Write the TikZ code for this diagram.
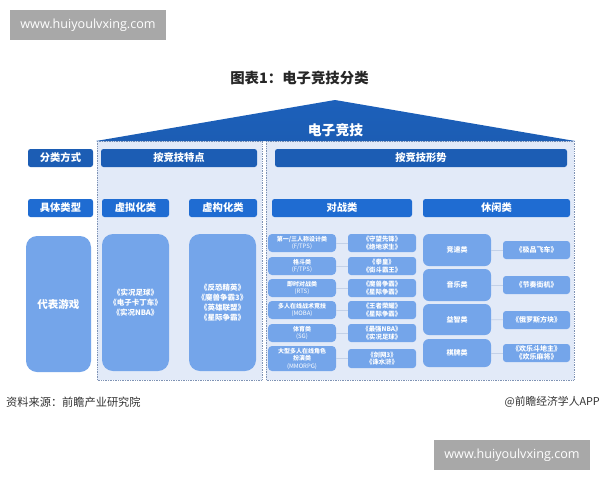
\documentclass[tikz,border=0pt]{standalone}
\usepackage{fontspec}
\setmainfont{Noto Sans CJK SC}
\newfontfamily\urlfont{Open Sans}
\usetikzlibrary{calc}
\definecolor{headblue}{HTML}{1C5DB4}
\definecolor{subblue}{HTML}{1F6CD2}
\definecolor{cellblue}{HTML}{74A5EA}
\definecolor{panelblue}{HTML}{E2EAF8}
\definecolor{edgeblue}{HTML}{7F93B5}
\definecolor{linkblue}{HTML}{C3D1E8}
\definecolor{stampgray}{HTML}{A8A8A8}
\tikzset{
  x=1pt,y=-1pt,
  cellbase/.style={inner sep=0pt,outer sep=0pt,align=center,text=white,rounded corners=2.5pt},
  headbox/.style={cellbase,fill=headblue,font=\fontsize{10.3}{12}\selectfont\bfseries},
  subbox/.style={cellbase,fill=subblue,font=\fontsize{10.3}{12}\selectfont\bfseries},
  tallbox/.style={cellbase,fill=cellblue,rounded corners=11pt,font=\fontsize{7.5}{9.8}\selectfont\bfseries},
  repbox/.style={tallbox,font=\fontsize{10.5}{13}\selectfont\bfseries},
  genrebox/.style={cellbase,fill=cellblue,rounded corners=4pt,font=\fontsize{6}{7.5}\selectfont\bfseries},
  gamebox/.style={cellbase,fill=cellblue,rounded corners=3pt,font=\fontsize{6.4}{7.4}\selectfont\bfseries},
  leisuregame/.style={gamebox,font=\fontsize{7}{7.8}\selectfont\bfseries},
  leisurebox/.style={cellbase,fill=cellblue,rounded corners=6pt,font=\fontsize{7}{8}\selectfont\bfseries},
  panel/.style={fill=panelblue,draw=edgeblue,densely dotted,line width=0.7pt},
  link/.style={draw=linkblue,line width=0.7pt},
  stamp/.style={fill=stampgray,inner sep=0pt,text=white,font=\urlfont\fontsize{12.6}{14}\selectfont},
  plain/.style={inner sep=0pt,text=black!80}
}
\newcommand{\tagline}[1]{{\mdseries #1}}
\newcommand{\bx}[7]{% name x1 y1 x2 y2 style text
  \pgfmathsetmacro{\cxv}{(#2+#4)/2}\pgfmathsetmacro{\cyv}{(#3+#5)/2}
  \pgfmathsetmacro{\wv}{#4-#2}\pgfmathsetmacro{\hv}{#5-#3}
  \node[#6,minimum width=\wv pt,minimum height=\hv pt] (#1) at (\cxv,\cyv) {#7};
}
\begin{document}
\begin{tikzpicture}
\useasboundingbox (0,0) rectangle (600,480);
\fill[white] (0,0) rectangle (600,480);
% panels
\draw[panel] (97,141) rectangle (262,380);
\draw[panel] (266,141) rectangle (574,380);
% roof
\shade[top color=headblue!80!subblue,bottom color=headblue] (96,141) -- (335,100) -- (575,141) -- cycle;
\node[inner sep=0pt,text=white,font=\fontsize{13.8}{15}\selectfont\bfseries] (roof) at (335.5,130) {电子竞技};
% title
\node[plain,text=black!85,font=\fontsize{14.4}{16}\selectfont\bfseries] (title) at (299.5,78) {图表1：电子竞技分类};
% stamps
\bx{s1}{10}{10}{166}{40}{stamp}{www.huiyoulvxing.com}
\bx{s2}{434}{440}{590}{470}{stamp}{www.huiyoulvxing.com}
% header row
\bx{h0}{28}{149}{93}{167}{headbox}{分类方式}
\bx{h1}{101}{149}{257}{167}{headbox}{按竞技特点}
\bx{h2}{275}{149}{567}{167}{headbox}{按竞技形势}
% sub row
\bx{t0}{28}{199}{93}{217}{subbox}{具体类型}
\bx{t1}{102}{199}{169}{217}{subbox}{虚拟化类}
\bx{t2}{189}{199}{257}{217}{subbox}{虚构化类}
\bx{t3}{272}{199}{412}{217}{subbox}{对战类}
\bx{t4}{423}{199}{570}{217}{subbox}{休闲类}
% tall boxes
\bx{r0}{26}{236}{91}{372}{repbox}{代表游戏}
\bx{r1}{102}{234}{169}{371}{tallbox}{《实况足球》\\《电子卡丁车》\\《实况NBA》}
\bx{r2}{189}{234}{256}{371}{tallbox}{《反恐精英》\\《魔兽争霸3》\\《英雄联盟》\\《星际争霸》}
% battle rows
\bx{a1}{268}{234}{336}{252}{genrebox}{第一/三人称设计类\\\tagline{(F/TPS)}}
\bx{b1}{348}{234}{416}{252}{gamebox}{《守望先锋》\\《绝地求生》}
\bx{a2}{268}{257}{336}{275}{genrebox}{格斗类\\\tagline{(F/TPS)}}
\bx{b2}{348}{257}{416}{275}{gamebox}{《拳皇》\\《街斗霸王》}
\bx{a3}{268}{279}{336}{297}{genrebox}{即时对战类\\\tagline{(RTS)}}
\bx{b3}{348}{279}{416}{297}{gamebox}{《魔兽争霸》\\《星际争霸》}
\bx{a4}{268}{301}{336}{319}{genrebox}{多人在线战术竞技\\\tagline{(MOBA)}}
\bx{b4}{348}{301}{416}{319}{gamebox}{《王者荣耀》\\《星际争霸》}
\bx{a5}{268}{324}{336}{342}{genrebox}{体育类\\\tagline{(SG)}}
\bx{b5}{348}{324}{416}{342}{gamebox}{《最强NBA》\\《实况足球》}
\bx{a6}{268}{346}{336}{371}{genrebox}{大型多人在线角色\\扮演类\\\tagline{(MMORPG)}}
\bx{b6}{348}{349}{416}{368}{gamebox}{《剑网3》\\《诛水浒》}
% leisure rows
\bx{c1}{423}{234}{491}{266}{leisurebox}{竞速类}
\bx{d1}{503}{241}{570}{259}{leisuregame}{《极品飞车》}
\bx{c2}{423}{269}{491}{301}{leisurebox}{音乐类}
\bx{d2}{503}{276}{570}{294}{leisuregame}{《节奏街机》}
\bx{c3}{423}{304}{491}{335}{leisurebox}{益智类}
\bx{d3}{503}{311}{570}{329}{leisuregame}{《俄罗斯方块》}
\bx{c4}{423}{339}{491}{367}{leisurebox}{棋牌类}
\bx{d4}{503}{344}{570}{362}{leisuregame}{《欢乐斗地主》\\《欢乐麻将》}
% connectors
\foreach \i in {1,...,6} {\draw[link] (a\i) -- (b\i);}
\foreach \i in {1,...,4} {\draw[link] (c\i) -- (d\i);}
% footer
\node[plain,anchor=west,font=\fontsize{11.2}{13}\selectfont] (src) at (6,402) {资料来源：前瞻产业研究院};
\node[plain,anchor=east,font=\fontsize{10.8}{13}\selectfont] (app) at (600,402) {@前瞻经济学人APP};
\end{tikzpicture}
\end{document}
